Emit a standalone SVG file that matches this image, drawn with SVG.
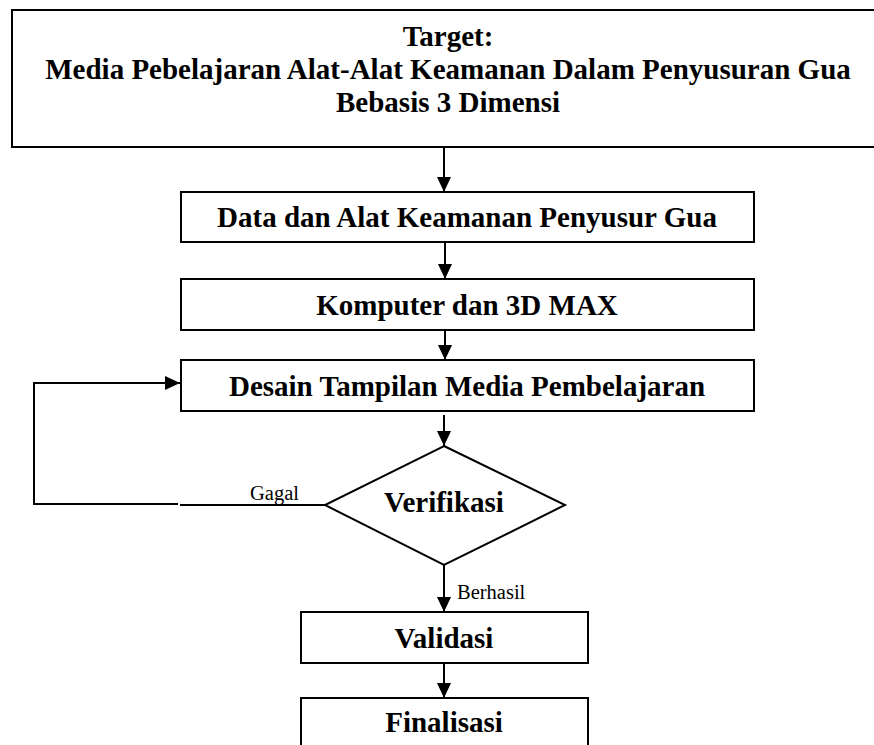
<svg xmlns="http://www.w3.org/2000/svg" width="874" height="745" viewBox="0 0 874 745">
<style>
.box{fill:#fff;stroke:#000;stroke-width:2}
.t{font-family:"Liberation Serif","Times New Roman",serif;font-weight:bold;font-size:29px;text-anchor:middle;fill:#000}
.l{font-family:"Liberation Serif","Times New Roman",serif;font-size:20.5px;fill:#000}
.c{fill:none;stroke:#000;stroke-width:2}
</style>
<defs>
<marker id="ah" markerUnits="userSpaceOnUse" markerWidth="16" markerHeight="14" refX="15" refY="7" orient="auto">
<path d="M0,0 L15,7 L0,14 Z" fill="#000"/>
</marker>
</defs>
<rect width="874" height="745" fill="#fff"/>
<g id="target">
<rect class="box" x="12" y="10" width="880" height="137"/>
<text class="t" x="448" y="46">Target:</text>
<text class="t" x="448" y="79">Media Pebelajaran Alat-Alat Keamanan Dalam Penyusuran Gua</text>
<text class="t" x="448" y="112">Bebasis 3 Dimensi</text>
</g>
<g id="data">
<rect class="box" x="181" y="192" width="573" height="50"/>
<text class="t" x="467" y="227">Data dan Alat Keamanan Penyusur Gua</text>
</g>
<g id="komputer">
<rect class="box" x="181" y="279" width="573" height="51"/>
<text class="t" x="467" y="315">Komputer dan 3D MAX</text>
</g>
<g id="desain">
<rect class="box" x="181" y="360" width="573" height="51"/>
<text class="t" x="467" y="396">Desain Tampilan Media Pembelajaran</text>
</g>
<g id="verifikasi">
<polygon class="box" points="444,446 565,505 444,565 325,505"/>
<text class="t" x="444" y="512">Verifikasi</text>
</g>
<g id="validasi">
<rect class="box" x="301" y="612" width="287" height="51"/>
<text class="t" x="444" y="648">Validasi</text>
</g>
<g id="finalisasi">
<rect class="box" x="301" y="698" width="287" height="60"/>
<text class="t" x="444" y="732">Finalisasi</text>
</g>
<g id="connectors">
<line class="c" x1="444" y1="147" x2="444" y2="192" marker-end="url(#ah)"/>
<line class="c" x1="445" y1="242" x2="445" y2="279" marker-end="url(#ah)"/>
<line class="c" x1="445" y1="330" x2="445" y2="360" marker-end="url(#ah)"/>
<line class="c" x1="444" y1="415" x2="444" y2="446" marker-end="url(#ah)"/>
<line class="c" x1="444" y1="565" x2="444" y2="612" marker-end="url(#ah)"/>
<line class="c" x1="444" y1="663" x2="444" y2="698" marker-end="url(#ah)"/>
<line class="c" x1="325" y1="505" x2="180" y2="505"/>
<polyline class="c" points="178,504 34,504 34,383 180,383" marker-end="url(#ah)"/>
<text class="l" x="250" y="500">Gagal</text>
<text class="l" x="457" y="599">Berhasil</text>
</g>
</svg>
